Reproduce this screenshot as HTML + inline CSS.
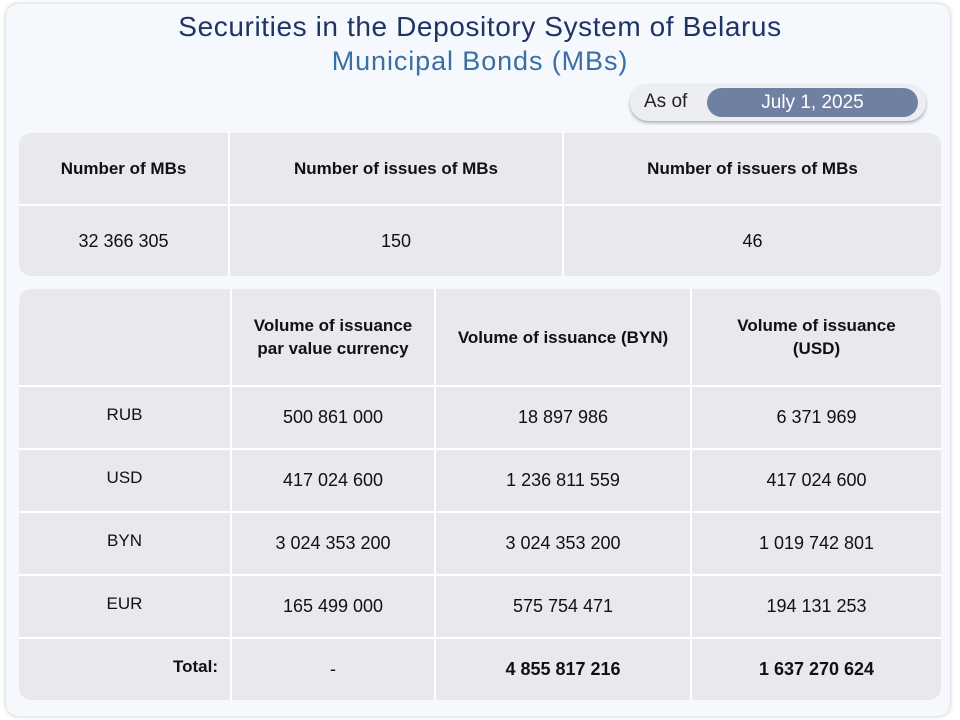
<!DOCTYPE html>
<html><head><meta charset="utf-8"><style>
*{box-sizing:border-box;margin:0;padding:0}
body{width:960px;height:720px;background:#fff;font-family:"Liberation Sans",sans-serif;position:relative;overflow:hidden}
.card{position:absolute;left:6px;top:4px;width:944px;height:712px;background:#f5f8fd;border-radius:12px;box-shadow:0 0 4px rgba(0,0,0,.25)}
.t1{position:absolute;left:0;top:11px;width:960px;text-align:center;font-size:28px;letter-spacing:0.6px;color:#1f3463}
.t2{position:absolute;left:0;top:46px;width:960px;text-align:center;font-size:27px;letter-spacing:0.9px;color:#3a6ea5}
.asof{position:absolute;left:630px;top:84px;width:296px;height:37px;border-radius:19px;background:#eceef3;box-shadow:0 2px 3px rgba(0,0,0,.3)}
.asof span{position:absolute;left:14px;top:7px;font-size:19px;color:#222}
.date{position:absolute;left:707px;top:88px;width:211px;height:29px;border-radius:15px;background:#7080a3;color:#fff;font-size:19px;text-align:center;line-height:29px}
.tb{position:absolute;border-radius:12px;overflow:hidden;background:#fff}
.c{position:absolute;background:#e8e8ed;display:flex;align-items:center;justify-content:center;text-align:center;font-size:18px;color:#111;line-height:23px}
.h{font-weight:bold;font-size:17px}
</style></head><body>
<div class="card"></div>
<div class="t1">Securities in the Depository System of Belarus</div>
<div class="t2">Municipal Bonds (MBs)</div>
<div class="asof"><span>As of</span></div>
<div class="date">July 1, 2025</div>
<div class="tb" style="left:19px;top:133px;width:922px;height:143px">
<div class="c h" style="left:0;top:0;width:209px;height:71px">Number of MBs</div>
<div class="c h" style="left:211px;top:0;width:332px;height:71px">Number of issues of MBs</div>
<div class="c h" style="left:545px;top:0;width:377px;height:71px">Number of issuers of MBs</div>
<div class="c" style="left:0;top:73px;width:209px;height:70px">32 366 305</div>
<div class="c" style="left:211px;top:73px;width:332px;height:70px">150</div>
<div class="c" style="left:545px;top:73px;width:377px;height:70px">46</div>
</div>
<div class="tb" style="left:19px;top:289px;width:922px;height:411px" id="vt">
<div class="c h" style="left:0;top:0;width:211px;height:96px"></div>
<div class="c h" style="left:213px;top:0;width:202px;height:96px">Volume of issuance<br>par value currency</div>
<div class="c h" style="left:417px;top:0;width:254px;height:96px">Volume of issuance (BYN)</div>
<div class="c h" style="left:673px;top:0;width:249px;height:96px">Volume of issuance<br>(USD)</div>
</div>
<script>
const currencies=["RUB","USD","BYN","EUR","Total:"];
const parValues=["500 861 000","417 024 600","3 024 353 200","165 499 000","-"];
const bynValues=["18 897 986","1 236 811 559","3 024 353 200","575 754 471","4 855 817 216"];
const usdValues=["6 371 969","417 024 600","1 019 742 801","194 131 253","1 637 270 624"];
const vt=document.getElementById('vt');
const cols=[[0,211],[213,202],[417,254],[673,249]];
currencies.forEach((cur,i)=>{
  const top=98+i*63;
  const vals=[cur,parValues[i],bynValues[i],usdValues[i]];
  vals.forEach((v,j)=>{
    const d=document.createElement('div');
    d.className='c';
    d.style.cssText=`left:${cols[j][0]}px;top:${top}px;width:${cols[j][1]}px;height:61px;font-size:${j==0?17:18}px`;
    const last=i==currencies.length-1;
    if(last&&(j==0||j>=2))d.style.fontWeight='bold';
    if(last&&j==0){d.style.justifyContent='flex-end';d.style.paddingRight='12px';}
    if(j==0)d.style.paddingBottom='6px';
    d.textContent=v;
    
    
    vt.appendChild(d);
  });
});
</script>
</body></html>
